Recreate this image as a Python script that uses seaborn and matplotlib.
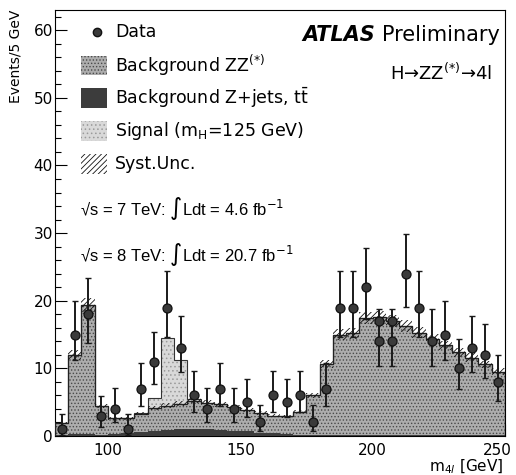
import numpy as np
import pandas as pd
import matplotlib
matplotlib.use("Agg")
import matplotlib.pyplot as plt
import seaborn as sns
from matplotlib.patches import Rectangle
from matplotlib.lines import Line2D
from matplotlib.ticker import MultipleLocator

# ---------------- data ----------------
bin_edges = [80, 85, 90, 95, 100, 105, 110, 115, 120, 125, 130, 135, 140, 145,
             150, 155, 160, 165, 170, 175, 180, 185, 190, 195, 200, 205, 210,
             215, 220, 225, 230, 235, 240, 245, 250]
bkg_zz = [1.7, 11.7, 19.1, 4.3, 2.3, 2.2, 2.7, 3.4, 3.6, 3.8, 4.2, 3.9, 3.8, 3.5,
          3.2, 2.9, 2.6, 2.6, 3.4, 5.8, 10.45, 14.9, 15.1, 17.3, 17.5, 16.9, 16.2,
          15.2, 14.3, 13.3, 12.3, 11.5, 10.5, 9.4]
bkg_zjets = [0.2, 0.3, 0.3, 0.2, 0.3, 0.4, 0.6, 0.8, 0.9, 1.0, 1.0, 1.0, 0.9, 0.8,
             0.7, 0.5, 0.4, 0.3, 0.2, 0.2, 0.15, 0.1, 0.1, 0.1, 0.1, 0.1, 0.1,
             0.1, 0.1, 0.1, 0.1, 0.1, 0.1, 0.1]
signal = [0, 0, 0, 0, 0, 0, 0.1, 1.4, 10.0, 6.4, 0.3, 0, 0, 0,
          0, 0, 0, 0, 0, 0, 0, 0, 0, 0, 0, 0, 0,
          0, 0, 0, 0, 0, 0, 0]
syst = [0.15, 0.7, 1.0, 0.3, 0.2, 0.2, 0.25, 0.3, 0.35, 0.35, 0.35, 0.35, 0.35, 0.3,
        0.3, 0.25, 0.2, 0.2, 0.25, 0.35, 0.6, 0.8, 0.8, 0.9, 0.9, 0.9, 0.85,
        0.8, 0.75, 0.7, 0.65, 0.6, 0.55, 0.5]
data = [1, 15, 18, 3, 4, 1, 7, 11, 19, 13, 6, 4, 7, 4,
        5, 2, 6, 5, 6, 2, 7, 19, 19, 22, 14, 14, 24,
        19, 14, 15, 10, 13, 12, 8]
data_err_lo = [0.83, 3.82, 4.19, 1.63, 1.91, 0.83, 2.58, 3.26, 4.30, 3.55, 2.38, 1.91,
               2.58, 1.91, 2.16, 1.29, 2.38, 2.16, 2.38, 1.29, 2.58, 4.30, 4.30, 4.65,
               3.68, 3.68, 4.86, 4.30, 3.68, 3.82, 3.11, 3.55, 3.41, 2.77]
data_err_hi = [2.30, 4.95, 5.30, 2.92, 3.16, 2.30, 3.77, 4.42, 5.41, 4.70, 3.58, 3.16,
               3.77, 3.16, 3.38, 2.64, 3.58, 3.38, 3.58, 2.64, 3.77, 5.41, 5.41, 5.73,
               4.83, 4.83, 5.93, 5.41, 4.83, 4.95, 4.27, 4.70, 4.56, 3.95]
# doubled markers visible in the scanned reference
extra_x = [202.5, 207.5]
extra_y = [17, 17]

x_ticks = [100, 150, 200, 250]
x_ticklabels = ["100", "150", "200", "250"]
y_ticks = [0, 10, 20, 30, 40, 50, 60]

# ---------------- style ----------------
sns.set_theme(style="ticks")
plt.rcParams['font.family'] = ['DejaVu Sans']
plt.rcParams['mathtext.fontset'] = 'dejavusans'
plt.rcParams['hatch.linewidth'] = 0.6
for k in ["text.color", "axes.labelcolor", "xtick.color", "ytick.color", "axes.edgecolor"]:
    plt.rcParams[k] = "black"

fig = plt.figure(figsize=(5.16, 4.75), dpi=100)
fig.patch.set_facecolor("white")
ax = fig.add_axes([0.1066, 0.0821, 0.872, 0.897])
ax.set_facecolor("white")

edges = np.array(bin_edges, dtype=float)
centers = (edges[:-1] + edges[1:]) / 2
zj = np.array(bkg_zjets)
zzv = np.array(bkg_zz)
sig = np.array(signal)
sy = np.array(syst)
bkg = zj + zzv
tot = bkg + sig

df = pd.DataFrame({"m": centers, "tot": tot, "bkg": bkg, "zj": zj})

C_SIG = "#d9d9d9"
C_ZZ = "#adadad"
C_ZJ = "#3c3c3c"

# stacked histogram: draw cumulative layers from top to bottom
sns.histplot(data=df, x="m", weights="tot", bins=list(bin_edges), element="step", fill=True,
             facecolor=C_SIG, edgecolor="#9a9a9a", hatch="....", alpha=1,
             linewidth=0, ax=ax, zorder=1)
sns.histplot(data=df, x="m", weights="bkg", bins=list(bin_edges), element="step", fill=True,
             facecolor=C_ZZ, edgecolor="#4a4a4a", hatch=".....", alpha=1,
             linewidth=0, ax=ax, zorder=2)
sns.histplot(data=df, x="m", weights="zj", bins=list(bin_edges), element="step", fill=True,
             facecolor=C_ZJ, edgecolor="#222222", alpha=1,
             linewidth=0, ax=ax, zorder=3)

ax.stairs(tot, edges, color="#333333", linewidth=0.8, zorder=4)
ax.stairs(bkg, edges, color="#222222", linewidth=0.9, zorder=4)

# systematic uncertainty band
ax.stairs(bkg + sy, edges, baseline=bkg - sy, fill=True, facecolor="none",
          edgecolor="#111111", hatch="//////", linewidth=0, zorder=5)

# data points
ax.errorbar(centers, data, yerr=[data_err_lo, data_err_hi], fmt="none",
            ecolor="#1a1a1a", elinewidth=1.4, capsize=2.0, capthick=1.0, zorder=6)
sns.scatterplot(x=centers, y=data, color="#3a3a3a", edgecolor="#111111",
                linewidth=0.9, s=42, ax=ax, zorder=7, legend=False)
sns.scatterplot(x=extra_x, y=extra_y, color="#3a3a3a", edgecolor="#111111",
                linewidth=0.9, s=42, ax=ax, zorder=7, legend=False)

# axes
ax.set_xlim(80, 250)
ax.set_ylim(0, 63)
ax.set_xticks(x_ticks)
ax.set_xticklabels(x_ticklabels[:-1] + [""])
ax.set_yticks(y_ticks)
ax.xaxis.set_minor_locator(MultipleLocator(10))
ax.yaxis.set_minor_locator(MultipleLocator(2))
ax.tick_params(which="both", direction="in", top=False, right=False,
               colors="black", width=0.8, labelsize=11)
ax.tick_params(axis="y", which="major", length=8.5, pad=1.5)
ax.tick_params(axis="y", which="minor", length=4)
ax.tick_params(axis="x", which="major", length=8.5, pad=5)
ax.tick_params(axis="x", which="minor", length=4)
for s in ax.spines.values():
    s.set_visible(True)
    s.set_color("black")
    s.set_linewidth(0.8)

T = ax.transAxes
# last x tick label, kept inside the canvas like in the reference
ax.text(1.016, -0.0164, x_ticklabels[-1], transform=T, fontsize=11,
        ha="right", va="top")

ax.set_ylabel("Events/5 GeV", fontsize=10, loc="top")
ax.yaxis.set_label_coords(-0.072, 1.0)
ax.set_xlabel("m$_{4l}$ [GeV]", fontsize=11, loc="right")
ax.xaxis.set_label_coords(0.996, -0.05)

# legend (manual, ROOT-like)
rows = [0.948, 0.870, 0.793, 0.716, 0.639]
px, pw, ph = 0.058, 0.058, 0.046
tx = 0.133
fs = 12.5
ax.add_line(Line2D([0.0933], [rows[0]], marker="o", markersize=6, color="#3a3a3a",
                   markeredgecolor="#111111", transform=T, zorder=8))
ax.text(tx, rows[0], "Data", transform=T, fontsize=fs, va="center", ha="left")
ax.add_patch(Rectangle((px, rows[1] - ph / 2), pw, ph, transform=T, facecolor=C_ZZ,
                       edgecolor="#4a4a4a", hatch=".....", linewidth=0, zorder=8))
ax.text(tx, rows[1], "Background ZZ$^{(*)}$", transform=T, fontsize=fs, va="center")
ax.add_patch(Rectangle((px, rows[2] - ph / 2), pw, ph, transform=T, facecolor=C_ZJ,
                       edgecolor="#222222", linewidth=0, zorder=8))
ax.text(tx, rows[2], "Background Z+jets, t$\\bar{\\mathrm{t}}$", transform=T,
        fontsize=fs, va="center")
ax.add_patch(Rectangle((px, rows[3] - ph / 2), pw, ph, transform=T, facecolor=C_SIG,
                       edgecolor="#9a9a9a", hatch="....", linewidth=0, zorder=8))
ax.text(tx, rows[3], "Signal (m$_{\\mathrm{H}}$=125 GeV)", transform=T, fontsize=fs,
        va="center")
ax.add_patch(Rectangle((px, rows[4] - ph / 2), pw, ph, transform=T, facecolor="none",
                       edgecolor="#111111", hatch="//////", linewidth=0, zorder=8))
ax.text(tx, rows[4], "Syst.Unc.", transform=T, fontsize=fs, va="center")

ax.text(0.055, 0.535, "√s = 7 TeV: ∫Ldt = 4.6 fb$^{-1}$", transform=T,
        fontsize=12, va="center", family=["Liberation Sans", "DejaVu Sans"])
ax.text(0.055, 0.425, "√s = 8 TeV: ∫Ldt = 20.7 fb$^{-1}$", transform=T,
        fontsize=12, va="center", family=["Liberation Sans", "DejaVu Sans"])

prelim = ax.text(0.989, 0.941, "Preliminary", transform=T, fontsize=15,
                 ha="right", va="center")
ax.annotate("ATLAS ", xy=(0, 0.5), xycoords=prelim, fontsize=15,
            fontweight="bold", fontstyle="italic", ha="right", va="center")
ax.text(0.858, 0.852, "H→ZZ$^{(*)}$→4l", transform=T, fontsize=13,
        ha="center", va="center")

fig.savefig("out.png", dpi=100)
